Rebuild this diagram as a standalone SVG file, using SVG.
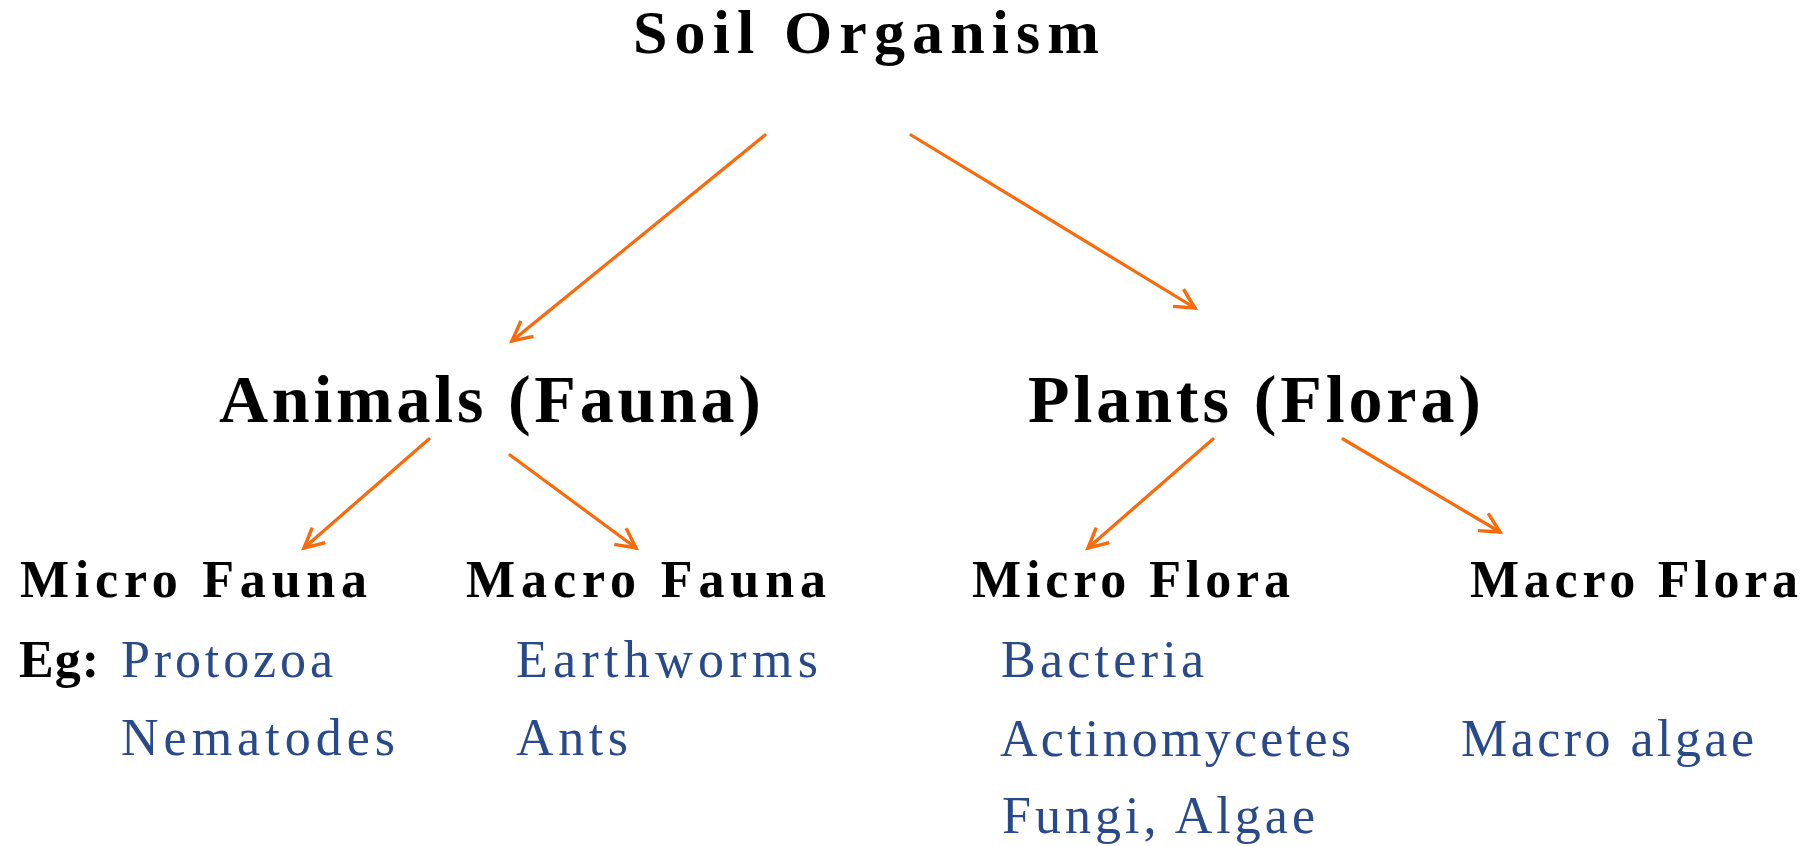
<svg xmlns="http://www.w3.org/2000/svg" width="1810" height="846" viewBox="0 0 1810 846">
  <style>
    .h { font-family: "Liberation Serif", "Times New Roman", serif; font-weight: bold; fill: #000000; }
    .t1 { font-size: 62px; }
    .t2 { font-size: 68px; }
    .t3 { font-size: 52px; }
    .ex { font-family: "Liberation Serif", "Times New Roman", serif; font-size: 52px; fill: #28498A; }
    .conn { stroke: #FA6A0A; stroke-width: 3.2; fill: none; stroke-linecap: round; marker-end: url(#arr); }
  </style>
  <defs>
    <marker id="arr" markerUnits="userSpaceOnUse" markerWidth="30" markerHeight="30" viewBox="-25 -15 30 30" refX="0" refY="0" orient="auto" overflow="visible">
      <path d="M -19.6 -10 L 0 0 L -19.6 10" fill="none" stroke="#FA6A0A" stroke-width="3.4" stroke-linecap="butt" stroke-linejoin="miter"/>
    </marker>
  </defs>
  <rect width="1810" height="846" fill="#ffffff"/>

  <g id="connectors">
    <line class="conn" x1="765" y1="135" x2="512" y2="341"/>
    <line class="conn" x1="911" y1="135" x2="1195" y2="308"/>
    <line class="conn" x1="429" y1="439" x2="304" y2="548"/>
    <line class="conn" x1="510" y1="455" x2="636" y2="548"/>
    <line class="conn" x1="1213" y1="439" x2="1088" y2="548"/>
    <line class="conn" x1="1343" y1="439" x2="1500" y2="532"/>
  </g>

  <g id="soil-organism">
    <text class="h t1" x="633" y="53" textLength="466" lengthAdjust="spacing">Soil Organism</text>
  </g>

  <g id="animals">
    <text class="h t2" x="219" y="422" textLength="542" lengthAdjust="spacing">Animals (Fauna)</text>
  </g>

  <g id="plants">
    <text class="h t2" x="1028" y="422" textLength="453" lengthAdjust="spacing">Plants (Flora)</text>
  </g>

  <g id="micro-fauna">
    <text class="h t3" x="20" y="597" textLength="347" lengthAdjust="spacing">Micro Fauna</text>
    <text class="h t3" x="19" y="677" textLength="80" lengthAdjust="spacing">Eg:</text>
    <text class="ex" x="121" y="677" textLength="212" lengthAdjust="spacing">Protozoa</text>
    <text class="ex" x="121" y="755" textLength="274" lengthAdjust="spacing">Nematodes</text>
  </g>

  <g id="macro-fauna">
    <text class="h t3" x="466" y="597" textLength="360" lengthAdjust="spacing">Macro Fauna</text>
    <text class="ex" x="516" y="677" textLength="302" lengthAdjust="spacing">Earthworms</text>
    <text class="ex" x="516" y="755" textLength="112" lengthAdjust="spacing">Ants</text>
  </g>

  <g id="micro-flora">
    <text class="h t3" x="972" y="597" textLength="318" lengthAdjust="spacing">Micro Flora</text>
    <text class="ex" x="1001" y="677" textLength="203" lengthAdjust="spacing">Bacteria</text>
    <text class="ex" x="1000" y="756" textLength="351" lengthAdjust="spacing">Actinomycetes</text>
    <text class="ex" x="1002" y="833" textLength="313" lengthAdjust="spacing">Fungi, Algae</text>
  </g>

  <g id="macro-flora">
    <text class="h t3" x="1470" y="597" textLength="328" lengthAdjust="spacing">Macro Flora</text>
    <text class="ex" x="1461" y="756" textLength="293" lengthAdjust="spacing">Macro algae</text>
  </g>
</svg>
